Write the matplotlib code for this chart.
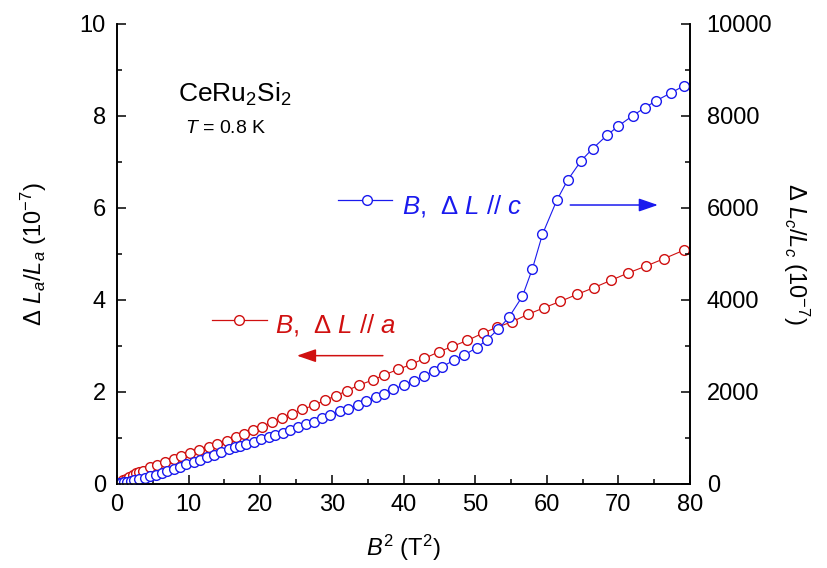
import matplotlib
matplotlib.use("Agg")
import matplotlib.pyplot as plt
from matplotlib.ticker import MultipleLocator

# B^2 (T^2) and dL/L along a (left axis, 1e-7)
b2_a = [0.0, 0.1, 0.3, 0.5, 0.8, 1.2, 1.7, 2.2, 2.7, 3.1, 3.6, 4.6, 5.6, 6.7,
        7.9, 9.0, 10.2, 11.5, 12.8, 14.0, 15.3, 16.6, 17.7, 19.0, 20.3, 21.6,
        23.0, 24.4, 25.8, 27.5, 29.0, 30.6, 32.1, 33.8, 35.7, 37.3, 39.2,
        41.1, 42.9, 44.9, 46.8, 48.9, 51.1, 53.1, 55.2, 57.4, 59.6, 61.9,
        64.2, 66.6, 69.0, 71.4, 73.9, 76.4, 79.1]
dl_a = [0.00, 0.01, 0.03, 0.05, 0.08, 0.11, 0.15, 0.19, 0.23, 0.26, 0.29, 0.36,
        0.42, 0.48, 0.54, 0.61, 0.67, 0.74, 0.80, 0.87, 0.94, 1.02, 1.09, 1.17,
        1.25, 1.35, 1.44, 1.53, 1.62, 1.71, 1.82, 1.92, 2.03, 2.15, 2.26, 2.37,
        2.49, 2.60, 2.73, 2.87, 2.99, 3.12, 3.28, 3.41, 3.53, 3.69, 3.83, 3.97,
        4.12, 4.27, 4.43, 4.59, 4.74, 4.90, 5.08]

# B^2 (T^2) and dL/L along c (right axis, 1e-7)
b2_c = [0.0, 0.1, 0.3, 0.6, 1.0, 1.4, 1.9, 2.4, 3.1, 3.9, 4.6, 5.4, 6.3, 7.0,
        8.0, 8.8, 9.7, 10.7, 11.6, 12.6, 13.6, 14.5, 15.6, 16.5, 17.2, 18.0,
        19.1, 20.1, 21.2, 22.1, 23.2, 24.2, 25.3, 26.4, 27.5, 28.6, 29.8,
        31.2, 32.3, 33.6, 34.8, 36.1, 37.3, 38.6, 40.0, 41.4, 42.8, 44.2,
        45.4, 47.1, 48.5, 50.2, 51.6, 53.2, 54.7, 56.6, 58.0, 59.4, 61.4,
        62.9, 64.8, 66.4, 68.4, 70.0, 72.0, 73.7, 75.2, 77.4, 79.1]
dl_c = [0, 5, 15, 25, 35, 50, 65, 80, 100, 130, 165, 200, 245, 285, 330, 380,
        425, 470, 522, 580, 630, 689, 754, 805, 835, 870, 920, 971, 1014, 1065,
        1116, 1174, 1232, 1297, 1348, 1435, 1493, 1580, 1630, 1717, 1804, 1890,
        1963, 2059, 2152, 2239, 2348, 2457, 2550, 2696, 2804, 2963, 3124, 3363,
        3620, 4080, 4680, 5428, 6167, 6602, 7028, 7289, 7580, 7783, 8007, 8180,
        8326, 8507, 8652]

RED = "#d01010"
BLUE = "#1a1aee"

plt.rcParams["font.family"] = ["Liberation Sans", "DejaVu Sans"]
plt.rcParams["mathtext.fontset"] = "custom"
plt.rcParams["mathtext.rm"] = "Liberation Sans"
plt.rcParams["mathtext.it"] = "Liberation Sans:italic"
plt.rcParams["mathtext.default"] = "it"

fig = plt.figure(figsize=(8.27, 5.68), dpi=100)
ax = fig.add_axes([117 / 827, 1 - 484 / 568, 573 / 827, 460 / 568])
ax2 = ax.twinx()

mk = dict(marker="o", markersize=7.0, markerfacecolor="white",
          markeredgewidth=1.0, linewidth=0.8)
ax.plot(b2_a, dl_a, color=RED, **mk)
ax2.plot(b2_c, dl_c, color=BLUE, **mk)

ax.set_xlim(0, 80)
ax.set_ylim(0, 10)
ax2.set_ylim(0, 10000)
ax.xaxis.set_major_locator(MultipleLocator(10))
ax.xaxis.set_minor_locator(MultipleLocator(5))
ax.yaxis.set_major_locator(MultipleLocator(2))
ax.yaxis.set_minor_locator(MultipleLocator(1))
ax2.yaxis.set_major_locator(MultipleLocator(2000))
ax2.yaxis.set_minor_locator(MultipleLocator(1000))

for a in (ax, ax2):
    a.spines["top"].set_visible(False)
    for s in a.spines.values():
        s.set_linewidth(1.2)
    a.tick_params(which="major", direction="in", length=6.5, width=1.1,
                  labelsize=17, pad=8)
    a.tick_params(which="minor", direction="in", length=3.6, width=1.1)
ax.tick_params(axis="x", pad=7)
ax.tick_params(axis="y", right=False)
ax2.tick_params(axis="y", left=False, pad=12)

ax.set_xlabel(r"$B^2$ (T$^2$)", fontsize=17, labelpad=12)
ax.set_ylabel(r"$\Delta\ L_a/L_a$ (10$^{-7}$)", fontsize=17, labelpad=22)
ax2.set_ylabel(r"$\Delta\ L_c/L_c$ (10$^{-7}$)", fontsize=17, rotation=270,
               labelpad=28)

ax.text(0.106, 0.830, r"CeRu$_2$Si$_2$", transform=ax.transAxes,
        fontsize=19, va="baseline")
ax.text(0.119, 0.762, r"$T$ = 0.8 K", transform=ax.transAxes,
        fontsize=14, va="baseline")

keymk = {k: v for k, v in mk.items() if k != "linewidth"}

# blue key
ax2.plot([0.386, 0.480], [0.617, 0.617], transform=ax.transAxes,
         color=BLUE, linewidth=0.9, clip_on=False)
ax2.plot([0.436], [0.617], transform=ax.transAxes, color=BLUE,
         clip_on=False, **keymk)
ax2.text(0.497, 0.588, r"$B$,  $\Delta$ $L$ // $c$", transform=ax.transAxes,
         fontsize=18.5, color=BLUE, va="baseline")
ax2.annotate("", xy=(0.944, 0.6065), xytext=(0.791, 0.6065),
             xycoords=ax.transAxes, textcoords=ax.transAxes,
             arrowprops=dict(arrowstyle="-|>,head_length=0.58,head_width=0.2",
                             color=BLUE, lw=1.1, mutation_scale=20,
                             shrinkA=0, shrinkB=0))

# red key
ax2.plot([0.166, 0.262], [0.3565, 0.3565], transform=ax.transAxes,
         color=RED, linewidth=0.9, clip_on=False)
ax2.plot([0.213], [0.3565], transform=ax.transAxes, color=RED,
         clip_on=False, **keymk)
ax2.text(0.276, 0.330, r"$B$,  $\Delta$ $L$ // $a$", transform=ax.transAxes,
         fontsize=18.5, color=RED, va="baseline")
ax2.annotate("", xy=(0.314, 0.279), xytext=(0.464, 0.279),
             xycoords=ax.transAxes, textcoords=ax.transAxes,
             arrowprops=dict(arrowstyle="-|>,head_length=0.58,head_width=0.2",
                             color=RED, lw=1.1, mutation_scale=20,
                             shrinkA=0, shrinkB=0))

fig.savefig("out.png", dpi=100)
plt.close(fig)
